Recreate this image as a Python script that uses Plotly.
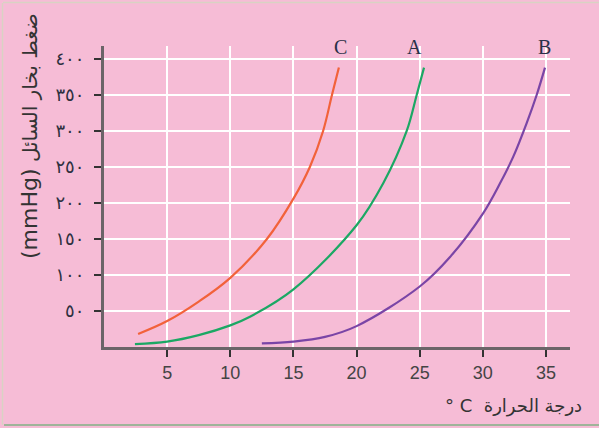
import plotly.graph_objects as go

# ---- data ----
c_temp = [2.7, 5, 7.5, 10, 12.9, 15, 16.3, 17.35, 18.05, 18.6]
c_press = [18, 36, 63, 96, 150, 206, 250, 300, 350, 388]

a_temp = [2.45, 5, 7.5, 10, 11.56, 15, 20, 22.1, 23.97, 24.76, 25.34]
a_press = [4, 7.5, 16.5, 30, 42, 80, 169, 227, 300, 350, 388]

b_temp = [12.5, 15, 17.5, 20, 25, 27.4, 30.03, 31.35, 32.4, 33.47, 34.26, 34.92]
b_press = [5, 7.5, 14, 29, 84, 125, 186, 227, 264, 311, 350, 388]

x_ticks = [5, 10, 15, 20, 25, 30, 35]
y_ticks = [50, 100, 150, 200, 250, 300, 350, 400]
y_ticklabels = ["٥٠", "١٠٠", "١٥٠", "٢٠٠", "٢٥٠", "٣٠٠", "٣٥٠", "٤٠٠"]

curve_labels = ["C", "A", "B"]
curve_label_x = [18.75, 24.6, 34.85]

PINK = "#F6BCD6"
W, H = 599, 428
ML, MR, MT, MB = 104, 29, 46, 81
PW, PH = W - ML - MR, H - MT - MB


def px2paper_x(px):
    return (px - ML) / PW


def px2paper_y(py):
    return (H - MB - py) / PH


fig = go.Figure()
for xs, ys, col in [(c_temp, c_press, "#F2623A"), (a_temp, a_press, "#1BA864"), (b_temp, b_press, "#7A45A6")]:
    fig.add_trace(go.Scatter(x=xs, y=ys, mode="lines",
                             line=dict(color=col, width=2.2, shape="spline", smoothing=1.0),
                             showlegend=False, hoverinfo="skip"))

annotations = []
for lab, lx in zip(curve_labels, curve_label_x):
    annotations.append(dict(x=lx, y=418, xref="x", yref="y", text=lab, showarrow=False,
                            yanchor="bottom", yshift=-14,
                            font=dict(family="Liberation Serif", size=20, color="#2A3048")))

annotations.append(dict(x=px2paper_x(584), y=px2paper_y(406), xref="paper", yref="paper",
                        text="° C  درجة الحرارة", showarrow=False, xanchor="right", yanchor="middle",
                        font=dict(family="DejaVu Sans", size=18, color="#333333")))
annotations.append(dict(x=px2paper_x(29), y=px2paper_y(136), xref="paper", yref="paper",
                        text="<span style='font-size:22px'>(mmHg)</span> ضغط بخار السائل",
                        showarrow=False, textangle=-90,
                        xanchor="center", yanchor="middle",
                        font=dict(family="DejaVu Sans", size=20, color="#333333")))

shapes = [
    dict(type="line", xref="paper", yref="paper", x0=px2paper_x(3), x1=px2paper_x(600),
         y0=px2paper_y(2.5), y1=px2paper_y(2.5), line=dict(color="#D9D2C4", width=1.5), layer="above"),
    dict(type="line", xref="paper", yref="paper", x0=px2paper_x(2.5), x1=px2paper_x(2.5),
         y0=px2paper_y(3), y1=px2paper_y(425), line=dict(color="#D9D2C4", width=1.5), layer="above"),
    dict(type="line", xref="paper", yref="paper", x0=px2paper_x(4), x1=px2paper_x(600),
         y0=px2paper_y(425), y1=px2paper_y(425), line=dict(color="#9FB49A", width=2), layer="above"),
]

fig.update_layout(
    width=W, height=H,
    margin=dict(l=ML, r=MR, t=MT, b=MB, pad=0),
    paper_bgcolor=PINK, plot_bgcolor=PINK,
    annotations=annotations,
    shapes=shapes,
    xaxis=dict(range=[0, 36.9], tickvals=x_ticks, showgrid=True, gridcolor="white", gridwidth=2,
               zeroline=False, showline=True, linecolor="#6B6468", linewidth=3,
               ticks="outside", ticklen=7, tickwidth=2, tickcolor="#333333",
               tickfont=dict(family="Liberation Sans", size=18, color="#444444")),
    yaxis=dict(range=[0, 418], tickvals=y_ticks, ticktext=y_ticklabels, showgrid=True,
               gridcolor="white", gridwidth=2, zeroline=False, showline=True, linecolor="#6B6468",
               linewidth=3, ticks="outside", ticklen=7, tickwidth=2, tickcolor="#333333",
               ticklabelstandoff=6,
               tickfont=dict(family="DejaVu Sans", size=18, color="#2E3040")),
)

fig.write_html("out.html", config={"displayModeBar": False},
               post_script="document.body.style.margin='0';document.body.style.overflow='hidden';"
                           "document.body.style.background='white';")
